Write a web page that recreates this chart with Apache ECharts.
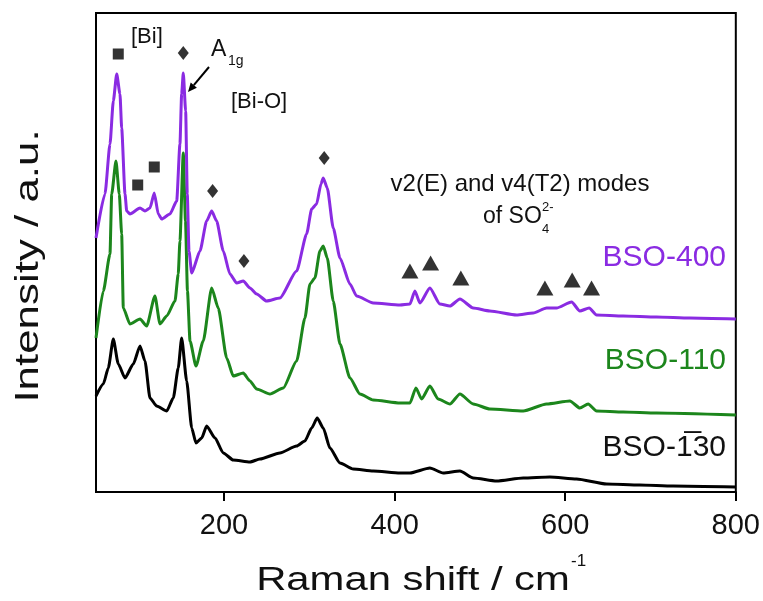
<!DOCTYPE html>
<html>
<head>
<meta charset="utf-8">
<script src="https://cdn.jsdelivr.net/npm/echarts@6.0.0/dist/echarts.min.js"></script>
<style>
  html, body { margin: 0; padding: 0; background: #fff; }
  #chart { width: 763px; height: 601px; }
</style>
</head>
<body>
<div id="chart"></div>
<script>
// BSO-400 (purple)
const shift400 = [50, 60.5, 66.4, 70.3, 74.3, 78.1, 80.1, 84, 86, 89.8, 101.6, 107.4, 113.3, 118.3, 123, 127, 136.7, 144.6, 148.4, 150.4, 152.3, 155.1, 157, 159, 162.2, 171.9, 179.7, 185.6, 191.4, 199.2, 207, 214.9, 222.6, 230.5, 238.3, 250, 265.6, 285.2, 296.9, 302.8, 308.6, 313.7, 316.4, 321.1, 328.1, 336, 347.7, 355.5, 375, 406.3, 418, 423.8, 429.7, 441.4, 453.1, 464.9, 476.6, 492.2, 511.7, 543, 562.5, 578.2, 589.9, 607.5, 617.2, 628.1, 636.8, 668, 707.1, 746.1, 800]
const int400 = [254, 298, 348, 391, 418, 398, 364, 298, 281, 278, 284, 281, 284, 299, 278, 273, 278, 291, 348, 398, 419, 381, 298, 241, 219, 241, 271, 281, 271, 241, 218, 209, 211, 204, 198, 191, 194, 221, 258, 283, 288, 308, 314, 304, 264, 234, 208, 196, 189, 187, 188, 201, 189, 204, 188, 186, 193, 184, 181, 177, 179, 184, 184, 190, 181, 184, 177, 176, 175, 174, 173]

// BSO-110 (green)
const shift110 = [50, 58.6, 66.4, 68.4, 73.4, 77.3, 80.1, 82, 89.8, 101.6, 109.4, 119.1, 125, 132.9, 142.6, 146.4, 148.4, 152.3, 154.9, 157.2, 160.2, 167.2, 175.7, 185.6, 193.3, 203.2, 210.9, 222.6, 230.5, 238.3, 253.9, 269.5, 285.2, 294.9, 300.8, 306.6, 312.5, 316.4, 321.1, 328.1, 336, 347.7, 359.4, 375, 406.3, 418, 425, 431.7, 441.4, 451.1, 464.9, 476.6, 492.2, 511.7, 550.8, 578.2, 605.5, 617.2, 626.9, 636.8, 668, 707.1, 800]
const int110 = [154, 201, 238, 298, 331, 298, 258, 184, 168, 173, 166, 196, 168, 176, 191, 218, 251, 339, 271, 201, 151, 126, 151, 204, 184, 134, 116, 119, 111, 103, 98, 104, 131, 174, 208, 214, 241, 246, 234, 191, 148, 114, 98, 92, 89, 89, 104, 93, 106, 93, 88, 98, 88, 83, 81, 88, 91, 84, 88, 81, 80, 79, 77]

// BSO-(-1)30 (black)
const shift130 = [50, 58.6, 64.4, 70.3, 76.1, 84, 93.7, 101.6, 107.4, 113.3, 121.1, 132.9, 140.6, 146.4, 150.4, 156.3, 162.2, 167.2, 173.9, 179.7, 189.5, 199.2, 210.9, 230.5, 242.2, 265.6, 285.2, 294.9, 302.8, 309.3, 316.4, 324.2, 336, 351.5, 375, 406.3, 418, 441.4, 457, 476.6, 492.2, 519.6, 550.8, 582, 613.3, 648.5, 687.5, 726.5, 800]
const int130 = [96, 108, 124, 153, 128, 114, 128, 146, 131, 94, 86, 81, 94, 124, 154, 111, 64, 49, 54, 66, 54, 39, 32, 30, 33, 39, 46, 51, 64, 74, 64, 44, 29, 23, 21, 19, 19, 24, 19, 21, 14, 11, 14, 15, 13, 8, 7, 6, 5]

// peak markers
const squareShift = [76.1, 98.9, 118.3]
const squareInt = [438, 307, 325]
const diamondShift = [152.3, 186.7, 223.4, 317.5]
const diamondInt = [439, 301, 231, 334]
const triangleShift = [418, 442.2, 477.7, 576.2, 608.2, 630.9]
const triangleInt = [221, 229, 214, 204, 212, 204]

const xTicks = [200, 400, 600, 800]

const purple = '#8a2be2'
const green = '#1c861c'
const font = 'Liberation Sans, Arial, sans-serif'

const zip = (xs, ys) => xs.map((x, i) => [x, ys[i]])

const chart = echarts.init(document.getElementById('chart'), null, { renderer: 'canvas' })

const lineSeries = (name, xs, ys, color) => ({
  name,
  type: 'line',
  data: zip(xs, ys),
  showSymbol: false,
  symbol: 'none',
  smooth: 0.2,
  smoothMonotone: 'x',
  lineStyle: { color, width: 3 },
  z: 2
})

const markerSeries = (symbol, size, xs, ys) => ({
  type: 'scatter',
  symbol,
  symbolSize: size,
  data: zip(xs, ys),
  itemStyle: { color: '#000' },
  z: 5
})

// tiny text helper for graphic labels
const txt = (x, y, text, size, opts = {}) => ({
  type: 'text',
  x, y,
  scaleX: opts.scaleX || 1,
  rotation: opts.rotation || 0,
  style: {
    text,
    fontSize: size,
    fontFamily: font,
    fill: opts.fill || '#111',
    align: opts.align || 'left',
    verticalAlign: 'middle'
  },
  z: 10
})

const option = {
  animation: false,
  backgroundColor: '#fff',
  grid: {
    left: 96, right: 27, top: 13, bottom: 109,
    show: true,
    borderColor: '#000',
    borderWidth: 2
  },
  xAxis: {
    type: 'value',
    min: 50,
    max: 800,
    splitLine: { show: false },
    axisLine: { show: true, lineStyle: { color: '#000', width: 2 } },
    axisTick: {
      show: true,
      customValues: xTicks,
      length: 9,
      lineStyle: { color: '#000', width: 2 }
    },
    axisLabel: {
      customValues: xTicks,
      fontSize: 29,
      fontFamily: font,
      color: '#111',
      margin: 19
    }
  },
  yAxis: {
    type: 'value',
    min: 0,
    max: 479,
    axisLine: { show: false },
    axisTick: { show: false },
    axisLabel: { show: false },
    splitLine: { show: false }
  },
  series: [
    lineSeries('BSO-130', shift130, int130, '#000'),
    lineSeries('BSO-110', shift110, int110, green),
    lineSeries('BSO-400', shift400, int400, purple),
    markerSeries('rect', [11, 11], squareShift, squareInt),
    markerSeries('diamond', [11, 14], diamondShift, diamondInt),
    markerSeries('triangle', [17, 15], triangleShift, triangleInt)
  ],
  graphic: [
    // axis titles
    txt(29, 266, 'Intensity / a.u.', 33, { align: 'center', rotation: Math.PI / 2, scaleX: 1.33 }),
    txt(413, 581, 'Raman shift / cm', 34, { align: 'center', scaleX: 1.23 }),
    txt(571, 561, '-1', 17),
    // series labels
    txt(726, 258, 'BSO-400', 30, { align: 'right', fill: purple }),
    txt(726, 361, 'BSO-110', 30, { align: 'right', fill: green }),
    txt(726, 448, 'BSO-1\u030530', 30, { align: 'right' }),
    // peak annotations
    txt(131, 37, '[Bi]', 22),
    txt(211, 50, 'A', 23),
    txt(228, 61, '1g', 14),
    txt(231, 102, '[Bi-O]', 22),
    txt(520, 184, 'v2(E) and v4(T2) modes', 24, { align: 'center' }),
    txt(483, 217, 'of SO', 23),
    txt(542, 229, '4', 13),
    txt(542, 207, '2-', 13),
    // arrow to A1g peak
    {
      type: 'line',
      shape: { x1: 209, y1: 67, x2: 193.8, y2: 85.1 },
      style: { stroke: '#000', lineWidth: 2 },
      z: 10
    },
    {
      type: 'polygon',
      shape: { points: [[188, 92], [196.9, 87.7], [190.7, 82.5]] },
      style: { fill: '#000' },
      z: 10
    }
  ]
}

chart.setOption(option)
</script>
</body>
</html>
